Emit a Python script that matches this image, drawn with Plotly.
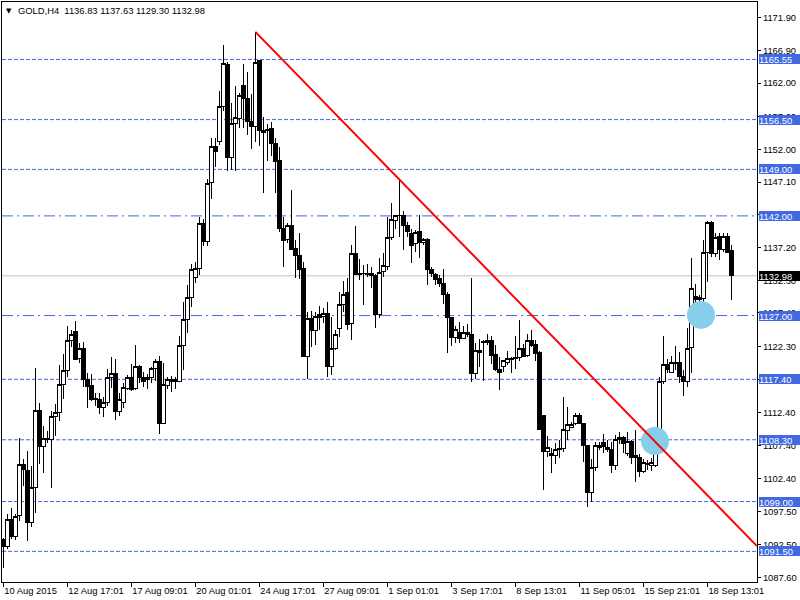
import plotly.graph_objects as go

symbol = "GOLD,H4"

opens = [1093.3, 1092.3, 1096.3, 1093.7, 1096.9, 1104.6, 1103.7, 1095.8, 1101.1, 1112.7,
         1107.3, 1108.5, 1108.3, 1111.8, 1112.4, 1116.6, 1118.8, 1123.3, 1124.6, 1120.6,
         1122.1, 1117.4, 1116.4, 1114.5, 1114.4, 1113.1, 1113.9, 1117.7, 1118.3, 1112.5,
         1113.9, 1116.0, 1117.6, 1116.0, 1119.4, 1117.6, 1117.6, 1117.6, 1119.1, 1120.1,
         1110.8, 1116.5, 1117.4, 1117.3, 1117.1, 1122.5, 1126.4, 1129.7, 1132.8, 1134.1,
         1140.9, 1138.1, 1147.0, 1152.5, 1153.2, 1158.4, 1164.8, 1150.8, 1155.9, 1156.6,
         1161.7, 1159.6, 1156.2, 1155.5, 1165.4, 1154.9, 1154.9, 1155.1, 1152.9, 1150.4,
         1140.1, 1138.5, 1140.6, 1137.1, 1136.1, 1134.1, 1120.8, 1126.6, 1124.8, 1127.1,
         1126.8, 1127.3, 1119.3, 1122.0, 1125.1, 1128.7, 1130.4, 1125.8, 1136.4, 1133.4,
         1133.4, 1133.4, 1133.4, 1133.0, 1127.1, 1133.6, 1134.4, 1138.8, 1141.3, 1142.0,
         1142.0, 1140.6, 1139.3, 1137.8, 1139.6, 1138.0, 1138.4, 1134.0, 1133.2, 1132.6,
         1131.9, 1130.2, 1126.7, 1123.7, 1124.5, 1123.6, 1124.4, 1124.2, 1118.3, 1121.7,
         1123.0, 1123.0, 1123.3, 1121.1, 1118.9, 1119.4, 1120.0, 1120.4, 1120.7, 1120.7,
         1122.0, 1121.0, 1123.3, 1122.6, 1121.4, 1112.0, 1106.5, 1106.2, 1106.0, 1107.0,
         1107.0, 1109.7, 1110.1, 1110.8, 1111.9, 1110.8, 1107.4, 1100.3, 1104.2, 1107.4,
         1107.9, 1107.2, 1106.9, 1104.4, 1108.3, 1108.7, 1106.3, 1108.0, 1105.9, 1105.7,
         1103.5, 1104.6, 1104.5, 1104.5, 1108.4, 1117.0, 1119.7, 1118.5, 1119.8, 1120.0,
         1117.9, 1117.0, 1122.2, 1129.9, 1129.7, 1129.6, 1136.5, 1141.0, 1136.4, 1138.9,
         1136.9, 1138.9, 1136.83]

highs = [1093.5, 1097.1, 1098.1, 1097.2, 1108.5, 1105.4, 1106.6, 1104.3, 1119.1, 1113.9,
         1110.4, 1109.6, 1112.6, 1113.7, 1119.6, 1121.2, 1125.4, 1124.9, 1126.2, 1122.8,
         1123.0, 1118.3, 1118.2, 1115.3, 1115.3, 1114.8, 1118.9, 1120.8, 1120.4, 1115.3,
         1116.8, 1118.0, 1119.7, 1122.6, 1119.5, 1118.5, 1118.2, 1119.3, 1120.4, 1120.9,
         1119.9, 1117.7, 1117.9, 1117.8, 1123.9, 1129.1, 1131.6, 1134.8, 1135.0, 1141.8,
         1141.5, 1147.5, 1153.7, 1153.7, 1160.8, 1167.7, 1165.2, 1159.0, 1161.5, 1160.5,
         1164.9, 1163.6, 1160.4, 1169.7, 1165.5, 1156.9, 1155.9, 1156.1, 1153.7, 1152.4,
         1141.9, 1140.9, 1145.9, 1138.4, 1139.4, 1135.1, 1127.5, 1127.7, 1127.5, 1128.5,
         1128.1, 1129.1, 1126.8, 1124.8, 1130.5, 1132.2, 1132.7, 1137.6, 1140.5, 1135.5,
         1134.6, 1134.7, 1134.3, 1133.2, 1135.6, 1136.4, 1141.9, 1143.9, 1142.1, 1147.4,
         1142.7, 1141.1, 1140.0, 1139.9, 1142.1, 1138.6, 1138.6, 1134.3, 1133.4, 1133.1,
         1134.0, 1130.6, 1126.8, 1125.4, 1126.1, 1125.4, 1125.7, 1132.7, 1122.8, 1123.4,
         1123.3, 1124.2, 1123.9, 1122.6, 1120.8, 1120.3, 1121.6, 1120.7, 1123.9, 1126.3,
         1122.7, 1124.2, 1124.8, 1123.3, 1121.6, 1112.0, 1108.8, 1107.0, 1107.8, 1108.3,
         1114.7, 1113.2, 1111.0, 1112.3, 1112.3, 1110.9, 1107.5, 1105.4, 1108.0, 1108.0,
         1109.1, 1108.3, 1108.0, 1109.0, 1109.5, 1108.9, 1109.5, 1108.3, 1109.8, 1106.2,
         1105.4, 1105.3, 1105.6, 1109.7, 1117.8, 1123.9, 1120.4, 1120.9, 1122.4, 1121.5,
         1118.8, 1125.2, 1135.6, 1131.7, 1130.1, 1138.3, 1141.3, 1141.3, 1139.5, 1139.5,
         1139.5, 1139.5, 1137.63]

lows = [1089.0, 1091.9, 1093.4, 1093.2, 1096.1, 1101.4, 1093.1, 1095.2, 1097.3, 1104.7,
        1103.3, 1107.8, 1101.1, 1108.9, 1111.2, 1114.5, 1117.8, 1122.3, 1120.3, 1119.9,
        1116.3, 1113.1, 1114.2, 1113.4, 1112.2, 1111.8, 1113.4, 1116.1, 1111.3, 1111.9,
        1113.1, 1115.8, 1115.7, 1115.8, 1116.8, 1116.2, 1116.0, 1116.8, 1117.1, 1109.2,
        1110.6, 1115.9, 1115.5, 1116.0, 1117.0, 1118.8, 1124.4, 1128.3, 1131.9, 1133.1,
        1137.4, 1137.4, 1144.6, 1149.4, 1152.7, 1157.8, 1148.7, 1148.9, 1148.8, 1155.3,
        1155.3, 1154.2, 1152.0, 1153.2, 1152.5, 1145.4, 1150.2, 1151.0, 1145.4, 1139.6,
        1134.3, 1137.9, 1136.9, 1132.7, 1132.5, 1120.8, 1117.4, 1122.3, 1122.6, 1124.8,
        1125.9, 1117.8, 1118.0, 1121.8, 1123.7, 1127.6, 1124.8, 1123.3, 1133.1, 1132.3,
        1128.6, 1132.8, 1131.1, 1125.2, 1126.6, 1132.8, 1133.9, 1138.4, 1140.1, 1138.9,
        1136.8, 1138.8, 1134.9, 1136.5, 1135.6, 1137.6, 1131.6, 1132.8, 1131.6, 1131.3,
        1128.8, 1121.4, 1122.4, 1122.9, 1122.9, 1123.5, 1123.8, 1117.0, 1117.4, 1119.3,
        1117.2, 1122.6, 1119.7, 1118.7, 1115.8, 1118.5, 1119.6, 1118.4, 1118.9, 1120.1,
        1120.7, 1120.7, 1122.3, 1120.2, 1109.8, 1100.8, 1105.7, 1103.3, 1104.7, 1105.5,
        1106.5, 1108.2, 1110.0, 1110.5, 1110.6, 1105.0, 1098.2, 1099.0, 1103.6, 1106.8,
        1106.3, 1106.5, 1103.3, 1103.8, 1107.7, 1106.3, 1105.9, 1104.7, 1102.0, 1102.7,
        1103.3, 1103.8, 1103.6, 1104.2, 1106.2, 1116.7, 1118.3, 1118.3, 1118.8, 1116.9,
        1114.9, 1116.3, 1118.3, 1128.1, 1126.8, 1126.8, 1132.1, 1135.8, 1135.8, 1135.4,
        1136.6, 1136.4, 1129.30]

closes = [1092.3, 1096.3, 1093.7, 1096.7, 1104.6, 1103.9, 1095.8, 1101.1, 1112.7, 1107.3,
          1108.5, 1108.3, 1111.8, 1112.4, 1116.6, 1118.8, 1123.3, 1124.2, 1120.4, 1122.1,
          1117.3, 1116.3, 1114.3, 1114.3, 1113.1, 1113.9, 1117.7, 1118.3, 1112.5, 1114.4,
          1116.2, 1117.6, 1115.9, 1119.4, 1117.6, 1117.1, 1117.3, 1119.1, 1120.1, 1110.8,
          1116.6, 1117.3, 1117.0, 1117.0, 1122.5, 1126.4, 1129.7, 1133.9, 1134.1, 1140.9,
          1138.1, 1146.9, 1152.5, 1151.7, 1158.5, 1165.0, 1150.8, 1155.9, 1156.8, 1160.2,
          1159.6, 1156.2, 1155.5, 1165.1, 1154.8, 1154.5, 1155.0, 1152.9, 1150.2, 1140.1,
          1138.3, 1140.5, 1137.0, 1136.0, 1133.9, 1120.9, 1126.6, 1124.8, 1126.8, 1126.7,
          1127.3, 1119.3, 1122.0, 1124.2, 1128.7, 1130.2, 1125.7, 1136.4, 1133.2, 1133.2,
          1133.3, 1133.2, 1133.0, 1127.1, 1133.5, 1134.5, 1138.8, 1141.4, 1142.0, 1142.1,
          1140.6, 1139.6, 1137.6, 1139.5, 1138.0, 1138.4, 1134.0, 1133.4, 1132.5, 1131.9,
          1130.2, 1126.7, 1123.7, 1124.9, 1123.6, 1124.5, 1124.1, 1118.3, 1121.7, 1121.4,
          1123.1, 1123.3, 1121.0, 1118.9, 1118.5, 1120.2, 1120.5, 1120.5, 1120.5, 1122.0,
          1120.8, 1123.3, 1122.5, 1121.3, 1109.9, 1106.5, 1107.2, 1106.0, 1106.9, 1106.9,
          1109.8, 1110.6, 1110.6, 1111.9, 1110.7, 1107.4, 1100.3, 1104.2, 1107.4, 1107.2,
          1107.3, 1106.9, 1104.4, 1108.3, 1108.6, 1107.8, 1108.0, 1105.7, 1105.7, 1103.6,
          1104.9, 1104.8, 1104.9, 1108.4, 1117.0, 1119.7, 1118.9, 1120.0, 1120.0, 1117.8,
          1117.0, 1122.1, 1131.0, 1129.4, 1129.4, 1136.5, 1141.0, 1136.4, 1138.8, 1137.0,
          1138.9, 1136.5, 1132.98]

bar_index = list(range(len(closes)))

date_tick_bars = [0, 16, 32, 48, 64, 80, 96, 112, 128, 144, 160, 176]
date_tick_labels = ["10 Aug 2015", "12 Aug 17:01", "17 Aug 09:01", "20 Aug 01:01",
                    "24 Aug 17:01", "27 Aug 09:01", "1 Sep 01:01", "3 Sep 17:01",
                    "8 Sep 13:01", "11 Sep 05:01", "15 Sep 21:01", "18 Sep 13:01"]

price_ticks = [1171.90, 1166.90, 1162.00, 1157.00, 1152.00, 1147.10, 1142.20, 1137.20,
               1132.30, 1127.40, 1122.30, 1117.40, 1112.40, 1107.40, 1102.40, 1097.50,
               1092.50, 1087.60]

dash_levels = [1165.55, 1156.50, 1149.00, 1117.40, 1108.30, 1099.00, 1091.50]
dashdot_levels = [1142.00, 1127.00]
current_price = closes[-1]

trend_bars = [63, 188.4]
trend_prices = [1169.7, 1092.3]

highlight_bars = [162.9, 174.4]
highlight_prices = [1108.1, 1127.1]

FONT = "Liberation Sans, Arial, sans-serif"
BLUE = "#4169E1"

fig = go.Figure()

fig.add_trace(go.Scatter(
    x=highlight_bars, y=highlight_prices, mode="markers",
    marker=dict(size=28, color="#87CEEB", line=dict(width=0)),
    hoverinfo="skip", showlegend=False))

fig.add_trace(go.Candlestick(
    x=bar_index, open=opens, high=highs, low=lows, close=closes,
    increasing=dict(line=dict(color="black", width=1), fillcolor="white"),
    decreasing=dict(line=dict(color="black", width=1), fillcolor="black"),
    whiskerwidth=0, showlegend=False, hoverinfo="skip"))

fig.add_trace(go.Scatter(
    x=trend_bars, y=trend_prices, mode="lines",
    line=dict(color="#FF0000", width=2), hoverinfo="skip", showlegend=False))

shapes = []
for lv in dash_levels:
    shapes.append(dict(type="line", xref="paper", x0=0, x1=1, yref="y", y0=lv, y1=lv,
                       line=dict(color=BLUE, width=1, dash="4px,2px"), layer="below"))
for lv in dashdot_levels:
    shapes.append(dict(type="line", xref="paper", x0=0, x1=1, yref="y", y0=lv, y1=lv,
                       line=dict(color=BLUE, width=1, dash="11px,4px,2px,4px"), layer="below"))
shapes.append(dict(type="line", xref="paper", x0=0, x1=1, yref="y", y0=current_price,
                   y1=current_price, line=dict(color="#C0C0C0", width=1), layer="below"))

annotations = []
for lv in dash_levels + dashdot_levels:
    annotations.append(dict(xref="paper", x=1, xanchor="left", xshift=2, yref="y", y=lv,
                            yanchor="middle", text=f"{lv:.2f}", showarrow=False,
                            bgcolor=BLUE, borderpad=0, borderwidth=0, width=41, height=10,
                            align="left", font=dict(family=FONT, size=9.4, color="white")))
annotations.append(dict(xref="paper", x=1, xanchor="left", xshift=2, yref="y", y=current_price,
                        yanchor="middle", text=f"{current_price:.2f}", showarrow=False,
                        bgcolor="black", borderpad=0, borderwidth=0, width=41, height=10,
                        align="left", font=dict(family=FONT, size=9.4, color="white")))
annotations.append(dict(xref="paper", x=0, xanchor="left", xshift=2, yref="paper", y=1,
                        yanchor="middle", yshift=-8.5, text="▼", showarrow=False,
                        font=dict(family="DejaVu Sans", size=7, color="black")))
annotations.append(dict(xref="paper", x=0, xanchor="left", xshift=14, yref="paper", y=1,
                        yanchor="middle", yshift=-8.5,
                        text=f"{symbol}  {opens[-1]:.2f} {highs[-1]:.2f} {lows[-1]:.2f} {closes[-1]:.2f}",
                        showarrow=False, font=dict(family=FONT, size=9.4, color="black")))

fig.update_layout(
    width=800, height=600,
    margin=dict(l=2, r=43, t=2, b=18, autoexpand=False),
    paper_bgcolor="white", plot_bgcolor="white",
    showlegend=False,
    boxgap=0.15, boxgroupgap=0,
    shapes=shapes, annotations=annotations,
    font=dict(family=FONT, size=9.4, color="black"),
    xaxis=dict(range=[-0.33, 188.4], showgrid=False, zeroline=False,
               showline=True, linecolor="black", linewidth=1, mirror=True,
               ticks="outside", ticklen=4, tickcolor="black", tickwidth=1,
               tickvals=date_tick_bars, ticktext=date_tick_labels,
               ticklabelposition="outside right", tickangle=0, automargin=False,
               tickfont=dict(family=FONT, size=9.4, color="black"),
               rangeslider=dict(visible=False), fixedrange=True),
    yaxis=dict(range=[1086.89, 1174.2], side="right", showgrid=False, zeroline=False,
               showline=True, linecolor="black", linewidth=1, mirror=True,
               ticks="outside", ticklen=3, tickcolor="black", tickwidth=1,
               tickvals=price_ticks, ticktext=[f"{p:.2f}" for p in price_ticks],
               automargin=False,
               tickfont=dict(family=FONT, size=9.4, color="black"), fixedrange=True),
)

post = ("document.body.style.margin='0';document.body.style.overflow='hidden';"
        "document.querySelectorAll('.boxlayer path').forEach(function(p){"
        "p.style.shapeRendering='crispEdges';});")

fig.write_html("out.html", config={"displayModeBar": False}, post_script=post)
